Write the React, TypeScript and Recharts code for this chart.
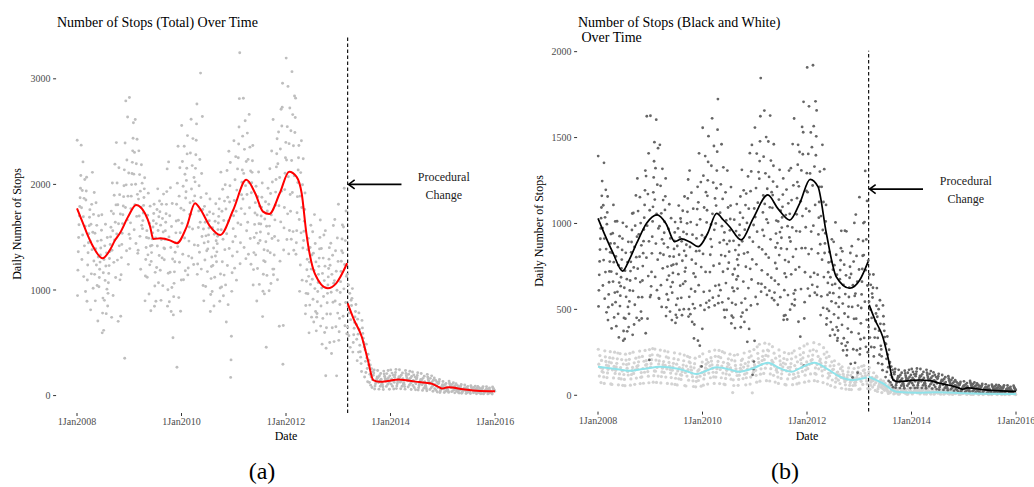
import React from 'react';
import { ScatterChart, Scatter, XAxis, YAxis, ReferenceLine, ReferenceDot } from 'recharts';

// ---------- Panel (a): total daily stops, monthly samples ----------
const total2008 = [
  [2418, 2372, 2085, 1963, 1874, 1791, 1702, 1618, 1497, 1362, 1188, 947],
  [2213, 2046, 1942, 1868, 1779, 1693, 1604, 1521, 1418, 1289, 1127, 986],
  [2068, 1937, 1852, 1761, 1689, 1608, 1532, 1447, 1353, 1236, 1094, 893],
  [2114, 1923, 1811, 1716, 1622, 1547, 1461, 1382, 1274, 1153, 1017, 812],
  [1826, 1703, 1612, 1538, 1463, 1391, 1312, 1236, 1148, 1043, 897, 706],
  [1712, 1566, 1472, 1398, 1331, 1264, 1196, 1118, 1031, 923, 781, 594],
  [1623, 1497, 1418, 1352, 1289, 1227, 1163, 1091, 1008, 902, 776, 618],
  [1747, 1594, 1503, 1431, 1364, 1298, 1231, 1157, 1069, 968, 849, 741],
  [2192, 2013, 1897, 1806, 1722, 1641, 1561, 1473, 1377, 1262, 1118, 948],
  [2396, 2158, 2014, 1903, 1808, 1719, 1627, 1531, 1418, 1283, 1096, 703],
  [2138, 1987, 1884, 1796, 1713, 1629, 1538, 1432, 1307, 1144, 752, 354],
  [2791, 2638, 2392, 2231, 2108, 1996, 1889, 1781, 1664, 1528, 1371, 1243],
];
const total2009 = [
  [2823, 2584, 2437, 2318, 2209, 2103, 1998, 1889, 1771, 1636, 1487, 1392],
  [2614, 2427, 2303, 2196, 2097, 2002, 1906, 1808, 1697, 1571, 1441, 1347],
  [2318, 2186, 2093, 2012, 1936, 1861, 1783, 1701, 1612, 1508, 1377, 1196],
  [2063, 1958, 1876, 1801, 1729, 1657, 1581, 1497, 1403, 1289, 1132, 897],
  [1917, 1794, 1708, 1633, 1562, 1491, 1416, 1333, 1238, 1121, 962, 804],
  [1812, 1724, 1656, 1597, 1541, 1484, 1423, 1354, 1271, 1167, 1038, 846],
  [1958, 1843, 1763, 1694, 1629, 1563, 1494, 1417, 1326, 1213, 1068, 893],
  [1908, 1812, 1741, 1677, 1614, 1549, 1478, 1398, 1304, 1187, 1041, 902],
  [2147, 1932, 1811, 1722, 1641, 1562, 1481, 1391, 1287, 1158, 1002, 847],
  [2213, 1968, 1819, 1703, 1601, 1503, 1402, 1293, 1168, 1024, 889, 796],
  [1812, 1653, 1541, 1447, 1358, 1268, 1172, 1063, 937, 764, 547, 268],
  [2361, 2158, 2012, 1889, 1774, 1661, 1542, 1411, 1263, 1094, 928, 798],
];
const total2010 = [
  [2558, 2361, 2217, 2096, 1983, 1871, 1756, 1632, 1493, 1338, 1182, 1097],
  [2462, 2289, 2153, 2038, 1931, 1826, 1716, 1597, 1463, 1321, 1208, 1143],
  [2617, 2434, 2297, 2178, 2066, 1956, 1842, 1717, 1578, 1427, 1303, 1241],
  [2761, 2573, 2418, 2281, 2152, 2024, 1891, 1748, 1592, 1421, 1246, 1148],
  [3054, 2643, 2236, 2103, 1987, 1876, 1763, 1641, 1506, 1357, 1198, 1043],
  [1913, 1792, 1711, 1642, 1577, 1513, 1446, 1372, 1284, 1174, 1033, 897],
  [1862, 1738, 1656, 1587, 1522, 1457, 1389, 1313, 1223, 1108, 957, 796],
  [1817, 1721, 1651, 1589, 1528, 1466, 1398, 1322, 1232, 1121, 986, 848],
  [1863, 1768, 1697, 1634, 1572, 1508, 1439, 1361, 1268, 1152, 1019, 894],
  [2116, 1954, 1842, 1746, 1658, 1571, 1481, 1382, 1268, 1141, 1028, 946],
  [2314, 2131, 1997, 1879, 1767, 1654, 1532, 1393, 1232, 1048, 861, 697],
  [2208, 1987, 1834, 1703, 1581, 1457, 1322, 1163, 987, 562, 338, 172],
];
const total2011 = [
  [2413, 2263, 2147, 2044, 1946, 1848, 1746, 1634, 1506, 1361, 1207, 1093],
  [3247, 2812, 2543, 2382, 2253, 2136, 2021, 1902, 1771, 1619, 1447, 1248],
  [2816, 2603, 2457, 2332, 2217, 2104, 1988, 1862, 1721, 1561, 1403, 1297],
  [2663, 2486, 2353, 2237, 2127, 2018, 1904, 1779, 1641, 1487, 1338, 1244],
  [2368, 2224, 2114, 2015, 1921, 1827, 1729, 1621, 1497, 1354, 1193, 1047],
  [2117, 1983, 1883, 1794, 1710, 1627, 1539, 1443, 1333, 1204, 1053, 896],
  [2014, 1878, 1783, 1701, 1625, 1549, 1469, 1381, 1278, 1149, 988, 748],
  [1963, 1836, 1748, 1673, 1603, 1532, 1457, 1371, 1268, 1138, 963, 458],
  [2317, 2148, 2023, 1914, 1812, 1711, 1605, 1488, 1353, 1198, 1062, 993],
  [2614, 2432, 2291, 2166, 2047, 1927, 1802, 1664, 1507, 1331, 1198, 1144],
  [2712, 2497, 2336, 2196, 2066, 1936, 1798, 1645, 1468, 1273, 1097, 657],
  [2958, 2731, 2553, 2398, 2252, 2106, 1951, 1781, 1588, 1379, 663, 297],
];
const total2012 = [
  [3196, 2928, 2723, 2547, 2386, 2231, 2073, 1904, 1721, 1564, 1478, 1342],
  [3068, 2837, 2661, 2508, 2366, 2226, 2081, 1923, 1746, 1553, 1481, 1376],
  [2817, 2634, 2492, 2368, 2252, 2137, 2017, 1884, 1731, 1562, 1447, 1338],
  [2413, 2243, 2112, 1997, 1889, 1781, 1668, 1541, 1397, 1236, 1093, 987],
  [1918, 1763, 1652, 1557, 1469, 1382, 1291, 1192, 1083, 968, 853, 774],
  [1613, 1489, 1403, 1331, 1264, 1198, 1129, 1053, 964, 857, 743, 594],
  [1714, 1552, 1441, 1349, 1266, 1185, 1102, 1013, 912, 797, 697, 613],
  [1663, 1498, 1389, 1302, 1224, 1148, 1071, 986, 889, 778, 743, 658],
  [1521, 1393, 1302, 1226, 1157, 1089, 1018, 939, 848, 731, 598, 487],
  [1562, 1401, 1292, 1203, 1124, 1047, 968, 879, 773, 643, 448, 188],
  [1611, 1443, 1329, 1234, 1148, 1065, 979, 884, 773, 642, 503, 398],
  [1667, 1493, 1372, 1271, 1178, 1089, 997, 896, 781, 652, 511, 187],
];
const total2013pre = [
  [1812, 1616, 1483, 1372, 1272, 1176, 1079, 976, 862, 731, 604, 523],
  [1963, 1748, 1597, 1468, 1352, 1241, 1129, 1011, 881, 752, 661, 586],
];
const total2013post = [
  [1148, 1047, 968, 903, 843, 783, 719, 648, 566, 457],
  [1013, 921, 853, 797, 745, 693, 638, 576, 503, 412],
  [862, 783, 724, 674, 628, 582, 533, 477, 412, 331],
  [712, 641, 589, 544, 502, 460, 415, 364, 303, 228],
  [487, 433, 392, 357, 324, 291, 257, 219, 176, 131],
  [334, 289, 255, 227, 201, 176, 151, 124, 99, 76],
  [243, 214, 193, 176, 160, 144, 128, 111, 91, 63],
  [238, 209, 188, 171, 155, 140, 124, 107, 88, 61],
  [232, 204, 184, 167, 151, 136, 120, 103, 84, 58],
  [237, 208, 187, 170, 154, 139, 123, 106, 87, 60],
];
const total2014 = [
  [243, 213, 192, 174, 158, 142, 126, 108, 88, 63],
  [248, 218, 196, 178, 162, 146, 129, 111, 91, 66],
  [244, 214, 193, 175, 159, 143, 127, 109, 89, 64],
  [238, 209, 188, 170, 154, 139, 123, 105, 85, 61],
  [231, 202, 181, 164, 148, 133, 117, 100, 81, 58],
  [224, 196, 175, 158, 143, 128, 112, 96, 77, 55],
  [217, 190, 169, 153, 138, 123, 108, 92, 73, 52],
  [209, 183, 163, 147, 132, 118, 103, 87, 69, 49],
  [201, 176, 157, 141, 126, 112, 98, 82, 65, 46],
  [187, 163, 145, 130, 116, 103, 89, 74, 58, 41],
  [167, 145, 129, 115, 102, 90, 77, 64, 50, 34],
  [152, 132, 117, 104, 92, 81, 69, 57, 44, 29],
];
const total2015 = [
  [133, 115, 102, 91, 81, 71, 61, 51, 40, 29],
  [137, 119, 105, 94, 84, 74, 63, 53, 42, 30],
  [122, 106, 94, 84, 75, 66, 56, 47, 37, 26],
  [112, 97, 86, 77, 68, 60, 51, 43, 34, 24],
  [106, 92, 81, 72, 64, 56, 48, 40, 31, 22],
  [100, 87, 77, 68, 60, 53, 45, 37, 29, 20],
  [94, 82, 72, 64, 57, 50, 42, 35, 27, 19],
  [90, 78, 69, 61, 54, 47, 40, 33, 26, 18],
  [87, 75, 66, 59, 52, 45, 38, 31, 24, 17],
  [85, 73, 64, 57, 50, 44, 37, 30, 23, 16],
  [83, 72, 63, 56, 49, 43, 36, 29, 23, 16],
  [82, 71, 62, 55, 48, 42, 35, 29, 22, 15],
];

// smoothed trend (red): [fractional year, value]
const redPre = [
  [2008.0, 1774], [2008.1, 1650], [2008.19, 1537], [2008.31, 1410], [2008.49, 1300], [2008.63, 1379],
  [2008.73, 1473], [2008.82, 1537], [2008.98, 1695], [2009.13, 1806], [2009.3, 1727], [2009.4, 1600],
  [2009.46, 1483], [2009.6, 1490], [2009.78, 1470], [2009.91, 1442], [2010.1, 1600], [2010.26, 1822],
  [2010.35, 1774], [2010.55, 1600], [2010.74, 1521], [2010.99, 1758], [2011.24, 2043], [2011.41, 1916],
  [2011.56, 1742], [2011.68, 1720], [2011.88, 1916], [2012.06, 2121], [2012.2, 2074], [2012.3, 1916],
  [2012.39, 1537], [2012.55, 1158], [2012.8, 1016], [2012.96, 1063], [2013.17, 1253],
];
const redPost = [
  [2013.18, 874], [2013.3, 720], [2013.45, 557], [2013.57, 330], [2013.67, 147], [2013.79, 131],
  [2013.95, 138], [2014.15, 153], [2014.36, 141], [2014.55, 128], [2014.76, 116], [2014.9, 88],
  [2014.98, 68], [2015.11, 78], [2015.39, 61], [2015.65, 46], [2016.0, 41],
];

// ---------- Panel (b): Black (dark) and White (light) stops ----------
const black2008 = [
  [1392, 1247, 1161, 1093, 1031, 971, 911, 848, 779, 701, 611, 517],
  [1353, 1196, 1106, 1036, 973, 912, 851, 787, 717, 639, 562, 483],
  [1157, 1064, 996, 938, 884, 832, 778, 721, 658, 587, 513, 438],
  [1108, 1012, 943, 884, 829, 775, 720, 662, 598, 527, 453, 389],
  [1013, 926, 862, 808, 757, 707, 656, 602, 542, 474, 402, 337],
  [1004, 912, 846, 790, 738, 687, 635, 580, 519, 450, 374, 318],
  [982, 893, 829, 775, 725, 676, 626, 573, 514, 446, 372, 328],
  [1058, 962, 892, 832, 777, 723, 668, 610, 546, 474, 397, 352],
  [1163, 1061, 987, 923, 863, 804, 744, 680, 608, 527, 451, 412],
  [1262, 1153, 1072, 1002, 937, 873, 807, 737, 659, 571, 487, 436],
  [1308, 1193, 1108, 1034, 965, 897, 827, 752, 668, 571, 447, 361],
  [1624, 1408, 1276, 1171, 1077, 987, 896, 801, 694, 572, 446, 206],
];
const black2009 = [
  [1627, 1473, 1362, 1268, 1181, 1097, 1012, 923, 826, 718, 634, 583],
  [1604, 1438, 1322, 1226, 1139, 1055, 971, 883, 789, 689, 612, 566],
  [1458, 1318, 1219, 1136, 1059, 984, 908, 827, 739, 641, 562, 514],
  [1262, 1158, 1079, 1010, 946, 883, 818, 749, 672, 588, 512, 461],
  [1112, 1031, 968, 913, 861, 809, 755, 697, 631, 556, 487, 438],
  [1008, 948, 898, 852, 807, 761, 712, 658, 597, 526, 468, 421],
  [1104, 1029, 971, 919, 869, 818, 764, 705, 638, 563, 497, 452],
  [1157, 1074, 1009, 951, 896, 841, 783, 720, 648, 567, 501, 466],
  [1256, 1146, 1068, 1001, 938, 876, 812, 742, 663, 573, 501, 458],
  [1308, 1179, 1086, 1008, 935, 863, 789, 709, 619, 531, 472, 427],
  [1213, 1084, 992, 913, 839, 766, 689, 604, 506, 412, 331, 318],
  [1408, 1241, 1123, 1024, 932, 841, 746, 641, 523, 387, 289, 168],
];
const black2010 = [
  [1557, 1392, 1278, 1182, 1093, 1006, 917, 823, 718, 602, 538, 497],
  [1508, 1358, 1251, 1161, 1077, 994, 909, 818, 717, 608, 551, 512],
  [1612, 1451, 1336, 1238, 1146, 1056, 963, 864, 754, 637, 568, 523],
  [1724, 1546, 1418, 1308, 1205, 1104, 1000, 889, 766, 642, 579, 536],
  [1461, 1327, 1228, 1143, 1063, 984, 903, 816, 719, 612, 541, 497],
  [1308, 1181, 1093, 1018, 948, 880, 810, 736, 653, 563, 497, 453],
  [1212, 1104, 1026, 960, 898, 836, 772, 703, 626, 538, 463, 418],
  [1113, 1022, 956, 899, 845, 791, 735, 674, 606, 528, 452, 391],
  [1157, 1063, 993, 932, 874, 817, 758, 693, 621, 538, 458, 396],
  [1312, 1193, 1107, 1033, 964, 896, 825, 748, 662, 563, 481, 427],
  [1409, 1274, 1174, 1086, 1003, 919, 832, 736, 624, 497, 386, 311],
  [1457, 1303, 1188, 1087, 991, 894, 791, 674, 523, 317, 196, 152, 119],
];
const black2011 = [
  [1558, 1407, 1299, 1206, 1121, 1037, 952, 862, 762, 651, 572, 531],
  [1846, 1624, 1478, 1363, 1261, 1163, 1064, 962, 849, 727, 648, 603],
  [1657, 1503, 1389, 1292, 1202, 1114, 1024, 928, 821, 703, 628, 584],
  [1628, 1477, 1366, 1271, 1182, 1094, 1004, 908, 801, 684, 609, 566],
  [1461, 1336, 1244, 1165, 1091, 1017, 941, 860, 770, 667, 598, 553],
  [1312, 1214, 1139, 1074, 1012, 950, 886, 816, 737, 646, 571, 527],
  [1262, 1168, 1097, 1035, 976, 917, 855, 787, 709, 612, 463, 439],
  [1308, 1197, 1117, 1049, 984, 919, 851, 776, 688, 583, 466, 441],
  [1462, 1322, 1222, 1136, 1056, 977, 895, 806, 704, 592, 531, 498],
  [1611, 1458, 1342, 1241, 1147, 1053, 956, 851, 731, 612, 557, 523],
  [1562, 1416, 1309, 1216, 1129, 1043, 953, 856, 746, 618, 428, 341],
  [1708, 1531, 1403, 1293, 1189, 1086, 978, 857, 716, 542, 447, 173],
];
const black2012 = [
  [1908, 1682, 1530, 1405, 1291, 1182, 1071, 953, 822, 689, 621, 578],
  [1921, 1711, 1566, 1444, 1331, 1221, 1108, 987, 851, 712, 643, 597],
  [1658, 1507, 1397, 1302, 1213, 1125, 1034, 936, 826, 702, 631, 584],
  [1458, 1316, 1213, 1125, 1043, 962, 879, 789, 688, 576, 509, 467],
  [1108, 1012, 943, 884, 828, 773, 716, 654, 584, 503, 448, 412],
  [908, 834, 778, 731, 687, 643, 597, 547, 491, 426, 382, 347],
  [1006, 893, 818, 757, 702, 648, 594, 536, 471, 397, 352, 318],
  [957, 856, 786, 729, 676, 624, 571, 514, 450, 377, 333, 301],
  [958, 838, 760, 698, 643, 589, 534, 476, 410, 332, 288, 261],
  [954, 828, 748, 684, 627, 572, 516, 456, 388, 308, 263, 232],
  [1003, 868, 778, 706, 641, 578, 514, 445, 367, 268, 183, 104],
  [1052, 908, 811, 732, 661, 592, 522, 446, 359, 262, 189, 131],
];
const black2013pre = [
  [1153, 1002, 898, 812, 735, 661, 587, 508, 419, 326, 271, 238],
  [1306, 1131, 1008, 907, 816, 728, 639, 545, 439, 334, 282, 251],
];
const black2013post = [
  [784, 703, 643, 592, 545, 499, 450, 397, 336, 281],
  [703, 626, 569, 521, 476, 432, 386, 336, 279, 226],
  [624, 553, 501, 457, 416, 376, 334, 288, 236, 187],
  [523, 460, 414, 375, 339, 304, 267, 227, 181, 146],
  [342, 298, 265, 237, 212, 188, 163, 136, 106, 83],
  [193, 167, 148, 132, 118, 104, 90, 75, 60, 47],
  [153, 136, 123, 112, 102, 92, 82, 71, 59, 44],
  [148, 131, 118, 107, 97, 88, 78, 67, 56, 42],
  [143, 127, 114, 104, 94, 85, 75, 65, 54, 41],
  [148, 131, 118, 107, 97, 88, 78, 67, 56, 42],
];
const black2014 = [
  [153, 136, 122, 111, 101, 91, 81, 70, 58, 43],
  [156, 138, 124, 113, 103, 93, 82, 71, 59, 44],
  [153, 136, 122, 111, 101, 91, 81, 70, 58, 43],
  [148, 131, 118, 107, 97, 88, 78, 67, 55, 41],
  [141, 125, 112, 102, 93, 84, 74, 64, 52, 39],
  [133, 118, 106, 96, 87, 79, 70, 60, 49, 36],
  [125, 111, 100, 90, 82, 74, 65, 56, 46, 33],
  [118, 105, 94, 85, 77, 69, 61, 52, 43, 31],
  [111, 98, 88, 80, 72, 65, 57, 49, 40, 29],
  [101, 89, 80, 72, 65, 58, 51, 44, 35, 25],
  [88, 77, 69, 62, 56, 50, 44, 37, 30, 21],
  [78, 68, 61, 55, 49, 44, 38, 32, 26, 18],
];
const black2015 = [
  [81, 71, 63, 57, 51, 45, 39, 33, 27, 19],
  [83, 73, 65, 58, 52, 46, 40, 34, 27, 19],
  [75, 66, 58, 52, 47, 41, 36, 30, 24, 17],
  [69, 60, 53, 48, 43, 38, 33, 27, 22, 15],
  [66, 58, 51, 46, 41, 36, 31, 26, 21, 14],
  [64, 56, 49, 44, 39, 35, 30, 25, 20, 13],
  [62, 54, 48, 43, 38, 33, 29, 24, 19, 13],
  [60, 52, 46, 41, 37, 32, 28, 23, 18, 12],
  [59, 51, 45, 40, 36, 31, 27, 22, 18, 12],
  [58, 50, 44, 39, 35, 31, 26, 22, 17, 11],
  [57, 49, 43, 39, 34, 30, 26, 21, 17, 11],
  [56, 48, 43, 38, 34, 30, 25, 21, 16, 11],
];

const white2008 = [
  [268, 231, 203, 181, 161, 139, 112, 74], [259, 224, 197, 176, 156, 134, 107, 69],
  [254, 219, 193, 171, 151, 130, 103, 66], [251, 216, 189, 168, 148, 127, 101, 63],
  [246, 212, 186, 165, 145, 124, 98, 61], [243, 208, 182, 161, 142, 121, 95, 58],
  [239, 205, 179, 158, 139, 118, 92, 56], [244, 209, 183, 162, 143, 121, 95, 59],
  [251, 216, 189, 168, 148, 127, 100, 64], [257, 222, 195, 173, 153, 132, 105, 68],
  [261, 226, 198, 176, 156, 134, 107, 70], [266, 231, 202, 180, 160, 138, 111, 73],
];
const white2009 = [
  [272, 236, 207, 184, 164, 142, 114, 76], [269, 234, 205, 182, 162, 140, 112, 75],
  [263, 228, 200, 178, 158, 136, 109, 72], [258, 223, 196, 174, 154, 133, 106, 69],
  [253, 218, 191, 170, 150, 129, 103, 66], [247, 213, 186, 166, 146, 125, 99, 63],
  [241, 207, 181, 161, 142, 121, 96, 60], [234, 201, 176, 156, 137, 117, 92, 57],
  [227, 194, 170, 150, 132, 112, 88, 54], [221, 189, 165, 146, 128, 108, 84, 51],
  [216, 184, 160, 142, 124, 105, 81, 49], [226, 193, 168, 149, 131, 111, 86, 53],
];
const white2010 = [
  [241, 207, 181, 160, 141, 120, 95, 59], [255, 219, 192, 171, 151, 129, 102, 65],
  [263, 227, 199, 177, 157, 134, 107, 69], [261, 225, 197, 175, 155, 133, 106, 68],
  [254, 219, 192, 170, 150, 129, 102, 65], [247, 212, 186, 165, 145, 124, 98, 62],
  [239, 205, 179, 159, 140, 119, 94, 16], [233, 200, 174, 154, 136, 115, 90, 57],
  [237, 203, 177, 157, 138, 117, 92, 58], [246, 211, 185, 164, 144, 123, 97, 61],
  [256, 220, 193, 171, 151, 129, 102, 65], [266, 229, 201, 178, 157, 134, 106, 14],
];
const white2011 = [
  [282, 244, 214, 191, 169, 145, 116, 76], [297, 258, 227, 202, 179, 154, 123, 82],
  [303, 263, 232, 207, 184, 158, 127, 85], [298, 259, 228, 203, 180, 155, 124, 83],
  [283, 245, 216, 192, 170, 146, 116, 77], [264, 228, 200, 178, 157, 134, 106, 69],
  [249, 214, 188, 166, 146, 125, 98, 63], [242, 208, 182, 161, 142, 121, 95, 60],
  [246, 212, 185, 164, 144, 123, 97, 62], [259, 223, 195, 173, 153, 130, 103, 66],
  [273, 236, 207, 184, 162, 139, 110, 71], [287, 248, 218, 194, 171, 147, 117, 76],
];
const white2012 = [
  [299, 259, 228, 203, 180, 155, 124, 82], [306, 265, 234, 208, 185, 159, 127, 85],
  [297, 257, 226, 201, 179, 154, 123, 81], [277, 240, 211, 187, 166, 142, 113, 74],
  [252, 218, 191, 170, 150, 128, 101, 65], [226, 195, 171, 151, 133, 113, 89, 56],
  [201, 173, 151, 134, 117, 99, 77, 47], [181, 155, 135, 119, 104, 88, 68, 41],
  [166, 142, 123, 108, 94, 79, 61, 36], [159, 136, 118, 103, 90, 75, 58, 34],
  [156, 133, 116, 101, 88, 74, 57, 33], [161, 137, 119, 104, 91, 76, 59, 35],
];
const white2013pre = [
  [169, 144, 126, 110, 96, 81, 63, 37], [173, 148, 129, 113, 99, 83, 65, 39],
];
const white2013post = [
  [161, 137, 119, 104, 91, 76, 59, 35], [131, 111, 97, 85, 74, 62, 48, 28],
  [106, 90, 78, 68, 59, 49, 38, 22], [83, 70, 61, 53, 46, 38, 29, 16],
  [61, 52, 45, 39, 34, 28, 21, 11], [46, 39, 34, 29, 25, 20, 15, 8],
  [41, 35, 30, 26, 22, 18, 13, 7], [41, 35, 30, 26, 22, 18, 13, 7],
  [39, 33, 28, 24, 21, 17, 12, 6], [41, 35, 30, 26, 22, 18, 13, 7],
];
const white2014 = [
  [43, 36, 31, 27, 23, 19, 14, 8], [44, 37, 32, 28, 24, 19, 14, 8], [43, 36, 31, 27, 23, 19, 14, 8],
  [41, 35, 30, 26, 22, 18, 13, 7], [39, 33, 28, 24, 21, 17, 12, 7], [38, 32, 27, 24, 20, 16, 12, 6],
  [37, 31, 27, 23, 20, 16, 12, 6], [36, 30, 26, 22, 19, 15, 11, 6], [35, 30, 25, 22, 19, 15, 11, 6],
  [33, 28, 24, 21, 18, 14, 10, 5], [31, 26, 22, 19, 16, 13, 10, 5], [29, 25, 21, 18, 15, 12, 9, 5],
];
const white2015 = [
  [31, 26, 22, 19, 16, 13, 10, 5], [32, 27, 23, 20, 17, 14, 10, 5], [30, 25, 22, 19, 16, 13, 9, 5],
  [29, 25, 21, 18, 15, 12, 9, 4], [29, 24, 21, 18, 15, 12, 9, 4], [28, 24, 20, 17, 15, 12, 9, 4],
  [28, 23, 20, 17, 14, 12, 8, 4], [27, 23, 20, 17, 14, 11, 8, 4], [27, 23, 19, 16, 14, 11, 8, 4],
  [26, 22, 19, 16, 14, 11, 8, 4], [26, 22, 19, 16, 13, 11, 8, 4], [25, 21, 18, 16, 13, 11, 8, 4],
];

const blackPre = [
  [2008.0, 1030], [2008.15, 920], [2008.29, 826], [2008.47, 723], [2008.6, 790], [2008.74, 885],
  [2008.93, 1001], [2009.13, 1050], [2009.3, 1000], [2009.47, 894], [2009.6, 910], [2009.75, 894],
  [2009.92, 865], [2010.1, 943], [2010.27, 1059], [2010.4, 1020], [2010.52, 981], [2010.74, 904],
  [2010.97, 1030], [2011.25, 1166], [2011.44, 1088], [2011.67, 1020], [2011.86, 1117], [2012.06, 1257],
  [2012.21, 1214], [2012.37, 943], [2012.56, 690], [2012.82, 623], [2013.01, 671], [2013.17, 778],
];
const blackPost = [
  [2013.19, 526], [2013.3, 440], [2013.45, 340], [2013.55, 220], [2013.65, 89], [2013.73, 80],
  [2013.95, 85], [2014.16, 89], [2014.35, 85], [2014.54, 70], [2014.7, 60], [2014.86, 47],
  [2014.98, 35], [2015.07, 43], [2015.41, 31], [2015.7, 26], [2016.0, 23],
];
const whitePre = [
  [2008.0, 166], [2008.3, 155], [2008.61, 143], [2008.9, 155], [2009.19, 166], [2009.5, 156],
  [2009.7, 140], [2009.88, 124], [2010.05, 140], [2010.27, 163], [2010.52, 150], [2010.71, 137],
  [2010.97, 157], [2011.25, 190], [2011.48, 157], [2011.71, 137], [2011.86, 157], [2012.14, 190],
  [2012.4, 151], [2012.63, 108], [2012.89, 89], [2013.14, 103],
];
const whitePost = [
  [2013.18, 108], [2013.45, 70], [2013.71, 21], [2014.1, 15], [2014.5, 18], [2015.04, 12], [2016.0, 8],
];

const xTicks = [2008, 2010, 2012, 2014, 2016];
const yTicksA = [0, 1000, 2000, 3000];
const yTicksB = [0, 500, 1000, 1500, 2000];
const changeDate = 2013.18;

// ---------- helpers ----------
type P = { x: number; y: number };
// place each month's samples on distinct days inside that month (order varies month to month)
const MULTS = [7, 11, 17, 23, 29];
const spread = (year: number, firstMonth: number, months: number[][]): P[] =>
  months.flatMap((vals, m) => {
    const mi = firstMonth + m;
    const k = year * 12 + mi;
    const n = vals.length;
    const mult = MULTS[k % MULTS.length];
    const off = (k * k * 3 + k) % n;
    return vals.map((v, j) => {
      let slot = (j * mult + off) % n;
      return { x: year + (mi + (slot + 0.5) / n) / 12, y: v };
    });
  });
const pairs = (rows: number[][]): P[] => rows.map(([x, y]) => ({ x, y }));

const totalPts = [
  ...spread(2008, 0, total2008), ...spread(2009, 0, total2009), ...spread(2010, 0, total2010),
  ...spread(2011, 0, total2011), ...spread(2012, 0, total2012), ...spread(2013, 0, total2013pre),
  ...spread(2013, 2, total2013post), ...spread(2014, 0, total2014), ...spread(2015, 0, total2015),
];
const blackPts = [
  ...spread(2008, 0, black2008), ...spread(2009, 0, black2009), ...spread(2010, 0, black2010),
  ...spread(2011, 0, black2011), ...spread(2012, 0, black2012), ...spread(2013, 0, black2013pre),
  ...spread(2013, 2, black2013post), ...spread(2014, 0, black2014), ...spread(2015, 0, black2015),
];
const whitePts = [
  ...spread(2008, 0, white2008), ...spread(2009, 0, white2009), ...spread(2010, 0, white2010),
  ...spread(2011, 0, white2011), ...spread(2012, 0, white2012), ...spread(2013, 0, white2013pre),
  ...spread(2013, 2, white2013post), ...spread(2014, 0, white2014), ...spread(2015, 0, white2015),
];

const FONT = "'Liberation Serif', 'DejaVu Serif', serif";
const tickStyle = { fill: '#4D4D4D', fontSize: 10, fontFamily: FONT };

const dot = (color: string, r: number) => (p: any) => <circle cx={p.cx} cy={p.cy} r={r} fill={color} />;
const noShape = () => <g />;

const arrowShape = (p: any) => {
  const tipX = Math.min(p.x1, p.x2);
  const tailX = Math.max(p.x1, p.x2);
  const y = p.y1;
  return (
    <g>
      <line x1={tailX} y1={y} x2={tipX + 1} y2={y} stroke="#000" strokeWidth={1.6} />
      <polyline
        points={`${tipX + 7},${y - 4.5} ${tipX + 1},${y} ${tipX + 7},${y + 4.5}`}
        fill="none"
        stroke="#000"
        strokeWidth={1.6}
      />
    </g>
  );
};
const noteShape = (dy1: number, dy2: number) => (p: any) => (
  <g fontFamily={FONT} fontSize={12} fill="#222" textAnchor="middle">
    <text x={p.cx} y={p.cy + dy1}>Procedural</text>
    <text x={p.cx} y={p.cy + dy2}>Change</text>
  </g>
);

const axisCommon = {
  axisLine: false,
  tickLine: { stroke: '#333' },
  tickSize: 3,
  tick: tickStyle,
};

function PanelA() {
  return (
    <ScatterChart width={520} height={487} margin={{ top: 35, right: 4.1, bottom: 44, left: 0 }}>
      <XAxis
        type="number"
        dataKey="x"
        domain={[2007.6, 2016.4]}
        ticks={xTicks}
        tickFormatter={(v: number) => `1Jan${v}`}
        height={30}
        tickMargin={2}
        allowDataOverflow
        {...axisCommon}
      />
      <YAxis
        type="number"
        dataKey="y"
        domain={[-165, 3415]}
        ticks={yTicksA}
        width={56.1}
        tickMargin={2.5}
        allowDataOverflow
        {...axisCommon}
      />
      <Scatter data={totalPts} shape={dot('#BEBEBE', 1.45)} isAnimationActive={false} />
      <ReferenceLine x={changeDate} stroke="#000" strokeWidth={1.1} strokeDasharray="3.5 2.5" />
      <Scatter data={pairs(redPre)} line={{ stroke: '#FF0000', strokeWidth: 2 }} lineJointType="monotoneX" shape={noShape} isAnimationActive={false} />
      <Scatter data={pairs(redPost)} line={{ stroke: '#FF0000', strokeWidth: 2 }} lineJointType="monotoneX" shape={noShape} isAnimationActive={false} />
      <ReferenceLine segment={[{ x: 2014.21, y: 2000 }, { x: changeDate, y: 2000 }]} shape={arrowShape} />
      <ReferenceDot x={2015.02} y={2000} r={1} fill="none" stroke="none" shape={noteShape(-3.5, 14.5)} />
    </ScatterChart>
  );
}

function PanelB() {
  return (
    <ScatterChart width={530} height={487} margin={{ top: 50.8, right: 13.1, bottom: 45.4, left: 0 }}>
      <XAxis
        type="number"
        dataKey="x"
        domain={[2007.6, 2016.4]}
        ticks={xTicks}
        tickFormatter={(v: number) => `1Jan${v}`}
        height={30}
        tickMargin={2}
        allowDataOverflow
        {...axisCommon}
      />
      <YAxis
        type="number"
        dataKey="y"
        domain={[-95, 2005]}
        ticks={yTicksB}
        width={57.1}
        tickMargin={2.5}
        allowDataOverflow
        {...axisCommon}
      />
      <Scatter data={whitePts} shape={dot('#D3D3D3', 1.6)} isAnimationActive={false} />
      <Scatter data={blackPts} shape={dot('#666666', 1.4)} isAnimationActive={false} />
      <ReferenceLine x={changeDate} stroke="#000" strokeWidth={1.1} strokeDasharray="3.5 2.5" />
      <Scatter data={pairs(whitePre)} line={{ stroke: '#8FE3EA', strokeWidth: 2 }} lineJointType="monotoneX" shape={noShape} isAnimationActive={false} />
      <Scatter data={pairs(whitePost)} line={{ stroke: '#8FE3EA', strokeWidth: 2 }} lineJointType="monotoneX" shape={noShape} isAnimationActive={false} />
      <Scatter data={pairs(blackPre)} line={{ stroke: '#000', strokeWidth: 1.7 }} lineJointType="monotoneX" shape={noShape} isAnimationActive={false} />
      <Scatter data={pairs(blackPost)} line={{ stroke: '#000', strokeWidth: 1.7 }} lineJointType="monotoneX" shape={noShape} isAnimationActive={false} />
      <ReferenceLine segment={[{ x: 2014.22, y: 1200 }, { x: changeDate, y: 1200 }]} shape={arrowShape} />
      <ReferenceDot x={2015.04} y={1200} r={1} fill="none" stroke="none" shape={noteShape(-4, 13.5)} />
    </ScatterChart>
  );
}

export default function App() {
  return (
    <div
      style={{
        position: 'absolute',
        left: 0,
        top: 0,
        width: 1034,
        height: 487,
        overflow: 'hidden',
        background: '#fff',
      }}
    >
      <div style={{ position: 'absolute', left: 0, top: 0 }}>
        <PanelA />
      </div>
      <div style={{ position: 'absolute', left: 520, top: 0 }}>
        <PanelB />
      </div>
      <svg
        width={1034}
        height={487}
        style={{ position: 'absolute', left: 0, top: 0, pointerEvents: 'none' }}
        fontFamily={FONT}
      >
        <text x={57} y={26.5} fontSize={14} fill="#000">Number of Stops (Total) Over Time</text>
        <text x={578} y={26.5} fontSize={14} fill="#000">Number of Stops (Black and White)</text>
        <text x={581.5} y={41.5} fontSize={14} fill="#000">Over Time</text>
        <text x={21} y={224} fontSize={12} fill="#000" textAnchor="middle" transform="rotate(-90 21 224)">
          Daily Number of Stops
        </text>
        <text x={543} y={231} fontSize={12} fill="#000" textAnchor="middle" transform="rotate(-90 543 231)">
          Daily Number of Stops
        </text>
        <text x={286} y={439.5} fontSize={12} fill="#000" textAnchor="middle">Date</text>
        <text x={807} y={439.5} fontSize={12} fill="#000" textAnchor="middle">Date</text>
        <text x={262} y={479} fontSize={24} fill="#000" textAnchor="middle">(a)</text>
        <text x={785} y={479} fontSize={24} fill="#000" textAnchor="middle">(b)</text>
      </svg>
    </div>
  );
}
